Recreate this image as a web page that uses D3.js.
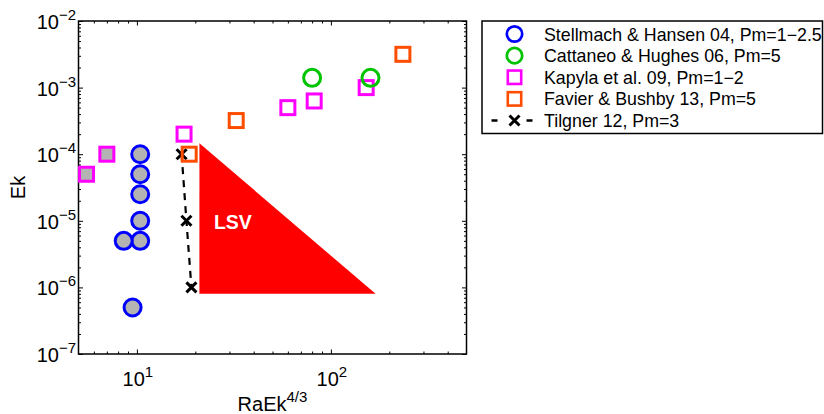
<!DOCTYPE html>
<html><head><meta charset="utf-8">
<script src="https://cdn.jsdelivr.net/npm/d3@7"></script>
<style>
html,body{margin:0;padding:0;background:#fff;}
svg{display:block;font-family:"Liberation Sans",Arial,Helvetica,sans-serif;}
</style></head>
<body>
<svg id="chart" width="824" height="414"></svg>
<script>
// ---- data ----
const stellmachX = [10.4, 10.4, 10.4, 10.4, 10.4, 8.55, 9.5];
const stellmachY = [1e-4, 5e-5, 2.5e-5, 1e-5, 5e-6, 5e-6, 5e-7];
const cattaneoX = [80, 160];
const cattaneoY = [1.4e-3, 1.4e-3];
const kapylaX = [5.5, 7, 17.5, 60, 82, 152];
const kapylaY = [5e-5, 1e-4, 2e-4, 5e-4, 6.3e-4, 1e-3];
const kapylaFilled = [true, true, false, false, false, false];
const favierX = [18.6, 32.5, 235];
const favierY = [1e-4, 3.2e-4, 3.16e-3];
const tilgnerX = [17, 18, 19.1];
const tilgnerY = [1e-4, 1e-5, 1e-6];
const lsvX = [21, 21, 170];
const lsvY = [1.46e-4, 8e-7, 8e-7];
const lsvLabel = "LSV";
const xMajor = [10, 100];
const xMajorExp = ["1", "2"];
const xMinor = [6, 7, 8, 9, 20, 30, 40, 50, 60, 70, 80, 90, 200, 300, 400];
const yMajor = [1e-7, 1e-6, 1e-5, 1e-4, 1e-3, 1e-2];
const yMajorExp = ["\u22127", "\u22126", "\u22125", "\u22124", "\u22123", "\u22122"];
const legendLabels = ["Stellmach & Hansen 04, Pm=1\u22122.5", "Cattaneo & Hughes 06, Pm=5",
  "Kapyla et al. 09, Pm=1\u22122", "Favier & Bushby 13, Pm=5", "Tilgner 12, Pm=3"];

// ---- layout ----
const L = 78.5, R = 466.5, T = 21, B = 354;
const blue = "#0000ff", green = "#00c400", magenta = "#ff00ff", orange = "#ff4d00", gray = "#b3b3b3";

const svg = d3.select("#chart");
const x = d3.scaleLog().domain([5, 500]).range([L, R]);
const y = d3.scaleLog().domain([1e-7, 1e-2]).range([B, T]);

const yMinor = [];
for (let e = -7; e < -2; e++) for (let m = 2; m <= 9; m++) yMinor.push(m * Math.pow(10, e));

// axes with inward ticks
function ax(gen, vals, size, tr) {
  const g = svg.append("g").attr("transform", tr)
    .call(gen.tickValues(vals).tickSize(size).tickFormat(""));
  g.select(".domain").remove();
  g.selectAll("line").attr("stroke", "#000").attr("stroke-width", 1);
  return g;
}
ax(d3.axisBottom(x), xMajor, -4.5, `translate(0,${B})`);
ax(d3.axisBottom(x), xMinor, -2.5, `translate(0,${B})`);
ax(d3.axisTop(x), xMajor, -4.5, `translate(0,${T})`);
ax(d3.axisTop(x), xMinor, -2.5, `translate(0,${T})`);
ax(d3.axisLeft(y), yMajor, -4.5, `translate(${L},0)`);
ax(d3.axisLeft(y), yMinor, -2.5, `translate(${L},0)`);
ax(d3.axisRight(y), yMajor, -4.5, `translate(${R},0)`);
ax(d3.axisRight(y), yMinor, -2.5, `translate(${R},0)`);

// frame
svg.append("rect").attr("x", L).attr("y", T).attr("width", R - L).attr("height", B - T)
  .attr("fill", "none").attr("stroke", "#000").attr("stroke-width", 1.5);

// tick labels
xMajor.forEach((v, i) => {
  const t = svg.append("text").attr("x", x(v) + 1).attr("y", 385.5).attr("text-anchor", "middle")
    .attr("font-size", 20).attr("fill", "#000");
  t.append("tspan").text("10");
  t.append("tspan").attr("dy", -9).attr("font-size", 15).text(xMajorExp[i]);
});
yMajor.forEach((v, i) => {
  const t = svg.append("text").attr("x", 76).attr("y", y(v) + 8).attr("text-anchor", "end")
    .attr("font-size", 20).attr("fill", "#000");
  t.append("tspan").text("10");
  t.append("tspan").attr("dy", -9).attr("font-size", 15).text(yMajorExp[i]);
});

// axis labels
const xl = svg.append("text").attr("x", (L + R) / 2).attr("y", 411).attr("text-anchor", "middle")
  .attr("font-size", 20).attr("fill", "#000");
xl.append("tspan").text("RaEk");
xl.append("tspan").attr("dy", -9).attr("font-size", 15).text("4/3");
svg.append("text").attr("transform", `translate(25,${(T + B) / 2}) rotate(-90)`)
  .attr("text-anchor", "middle").attr("font-size", 20).attr("fill", "#000").text("Ek");

// LSV triangle
const tri = lsvX.map((v, i) => [x(v), y(lsvY[i])]);
svg.append("path").attr("d", d3.line()(tri) + "Z").attr("fill", "#ff0000").attr("stroke", "none");
svg.append("text").attr("x", x(lsvX[0]) + 14.5).attr("y", y(1e-5) + 8.5)
  .attr("font-size", 19.5).attr("font-weight", "bold").attr("fill", "#fff").text(lsvLabel);

const plot = svg.append("g");

// Stellmach & Hansen
plot.selectAll(".sh").data(stellmachX.map((v, i) => [v, stellmachY[i]])).enter()
  .append("circle").attr("cx", d => x(d[0])).attr("cy", d => y(d[1])).attr("r", 8.5)
  .attr("fill", gray).attr("stroke", blue).attr("stroke-width", 3);

// Kapyla
const sq = 14;
plot.selectAll(".ka").data(kapylaX.map((v, i) => [v, kapylaY[i], kapylaFilled[i]])).enter()
  .append("rect").attr("x", d => x(d[0]) - sq / 2).attr("y", d => y(d[1]) - sq / 2)
  .attr("width", sq).attr("height", sq)
  .attr("fill", d => d[2] ? gray : "none").attr("stroke", magenta).attr("stroke-width", 3);

// Tilgner
const tpts = tilgnerX.map((v, i) => [x(v), y(tilgnerY[i])]);
plot.append("path").attr("d", d3.line()(tpts)).attr("fill", "none").attr("stroke", "#000")
  .attr("stroke-width", 2.2).attr("stroke-dasharray", "7,6");
function xMark(g, cx, cy, s) {
  g.append("path").attr("d", `M${cx - s},${cy - s}L${cx + s},${cy + s}M${cx - s},${cy + s}L${cx + s},${cy - s}`)
    .attr("stroke", "#000").attr("stroke-width", 3).attr("fill", "none");
}
tpts.forEach(p => xMark(plot, p[0], p[1], 5));

// Favier
plot.selectAll(".fb").data(favierX.map((v, i) => [v, favierY[i]])).enter()
  .append("rect").attr("x", d => x(d[0]) - sq / 2).attr("y", d => y(d[1]) - sq / 2)
  .attr("width", sq).attr("height", sq)
  .attr("fill", "none").attr("stroke", orange).attr("stroke-width", 3);

// Cattaneo
plot.selectAll(".ch").data(cattaneoX.map((v, i) => [v, cattaneoY[i]])).enter()
  .append("circle").attr("cx", d => x(d[0])).attr("cy", d => y(d[1])).attr("r", 8.5)
  .attr("fill", "none").attr("stroke", green).attr("stroke-width", 3);

// legend
const lg = svg.append("g");
lg.append("rect").attr("x", 482).attr("y", 21).attr("width", 340.5).attr("height", 112.5)
  .attr("fill", "#fff").attr("stroke", "#000").attr("stroke-width", 1.5);
const ly = d3.scalePoint().domain(d3.range(legendLabels.length)).range([34, 120.5]);
const mx = 514.5;
legendLabels.forEach((lab, i) => {
  const cy = ly(i);
  if (i === 0 || i === 1) {
    lg.append("circle").attr("cx", mx).attr("cy", cy).attr("r", 7.7).attr("fill", "none")
      .attr("stroke", i === 0 ? blue : green).attr("stroke-width", 2.7);
  } else if (i === 2 || i === 3) {
    lg.append("rect").attr("x", mx - 6.7).attr("y", cy - 6.7).attr("width", 13.4).attr("height", 13.4)
      .attr("fill", "none").attr("stroke", i === 2 ? magenta : orange).attr("stroke-width", 2.6);
  } else {
    lg.append("line").attr("x1", 491.5).attr("x2", 537.5).attr("y1", cy).attr("y2", cy)
      .attr("stroke", "#000").attr("stroke-width", 2.6).attr("stroke-dasharray", "6,29");
    xMark(lg, mx, cy, 5);
  }
  lg.append("text").attr("x", 544).attr("y", cy + 6.6).attr("font-size", 17.8).attr("fill", "#000").text(lab);
});
</script>
</body></html>
